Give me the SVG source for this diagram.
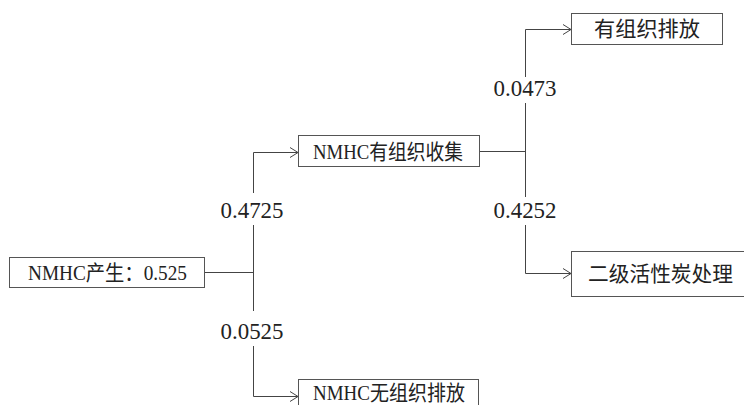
<svg xmlns="http://www.w3.org/2000/svg" width="744" height="405" viewBox="0 0 744 405">
<defs>
<style>
.box{fill:#fff;stroke:#555;stroke-width:1}
.t{font-family:"Liberation Serif","Noto Sans CJK SC",serif;font-size:21px;fill:#222;text-anchor:middle}
.lbl{font-family:"Liberation Serif",serif;font-size:24px;fill:#222;text-anchor:middle}
.ln{fill:none;stroke:#444;stroke-width:1}
.bg{fill:#fff}
</style>
<marker id="ah" viewBox="0 0 10 12" refX="9" refY="6" markerWidth="10" markerHeight="12" markerUnits="userSpaceOnUse" orient="auto">
<polyline points="1,1 9,6 1,11" fill="none" stroke="#444" stroke-width="1"/>
</marker>
</defs>
<rect width="744" height="405" fill="#fff"/>
<g id="connectors">
<line class="ln" x1="204" y1="272.5" x2="253.5" y2="272.5"/>
<line class="ln" x1="253.5" y1="152.5" x2="253.5" y2="396.5"/>
<line class="ln" x1="253.5" y1="152.5" x2="298" y2="152.5" marker-end="url(#ah)"/>
<line class="ln" x1="253.5" y1="396.5" x2="298" y2="396.5" marker-end="url(#ah)"/>
<line class="ln" x1="479" y1="151.5" x2="525.5" y2="151.5"/>
<line class="ln" x1="525.5" y1="29.5" x2="525.5" y2="273.5"/>
<line class="ln" x1="525.5" y1="29.5" x2="571" y2="29.5" marker-end="url(#ah)"/>
<line class="ln" x1="525.5" y1="273.5" x2="571" y2="273.5" marker-end="url(#ah)"/>
<g id="labels">
<rect class="bg" x="216" y="193" width="72" height="32"/>
<text class="lbl" x="252" y="218" textLength="63" lengthAdjust="spacingAndGlyphs">0.4725</text>
<rect class="bg" x="216" y="311" width="72" height="35"/>
<text class="lbl" x="252" y="339" textLength="63" lengthAdjust="spacingAndGlyphs">0.0525</text>
<rect class="bg" x="489" y="77" width="72" height="26"/>
<text class="lbl" x="525" y="96" textLength="63" lengthAdjust="spacingAndGlyphs">0.0473</text>
<rect class="bg" x="489" y="197" width="72" height="28"/>
<text class="lbl" x="525" y="218" textLength="63" lengthAdjust="spacingAndGlyphs">0.4252</text>
</g>
</g>
<g id="node-source">
<rect class="box" x="9.5" y="257.5" width="195" height="30"/>
<text class="t" x="107.5" y="280" textLength="159" lengthAdjust="spacingAndGlyphs">NMHC产生：0.525</text>
</g>
<g id="node-collect">
<rect class="box" x="298.5" y="135.5" width="181" height="31"/>
<text class="t" x="388" y="158.5" textLength="150" lengthAdjust="spacingAndGlyphs">NMHC有组织收集</text>
</g>
<g id="node-fugitive">
<rect class="box" x="298.5" y="379.5" width="180" height="40"/>
<text class="t" x="389" y="400" textLength="152" lengthAdjust="spacingAndGlyphs">NMHC无组织排放</text>
</g>
<g id="node-organized">
<rect class="box" x="571.5" y="13.5" width="151" height="31"/>
<text class="t" x="647" y="36" textLength="106" lengthAdjust="spacingAndGlyphs">有组织排放</text>
</g>
<g id="node-carbon">
<rect class="box" x="571.5" y="251.5" width="185" height="45"/>
<text class="t" x="660.5" y="281" textLength="145" lengthAdjust="spacingAndGlyphs">二级活性炭处理</text>
</g>
</svg>
